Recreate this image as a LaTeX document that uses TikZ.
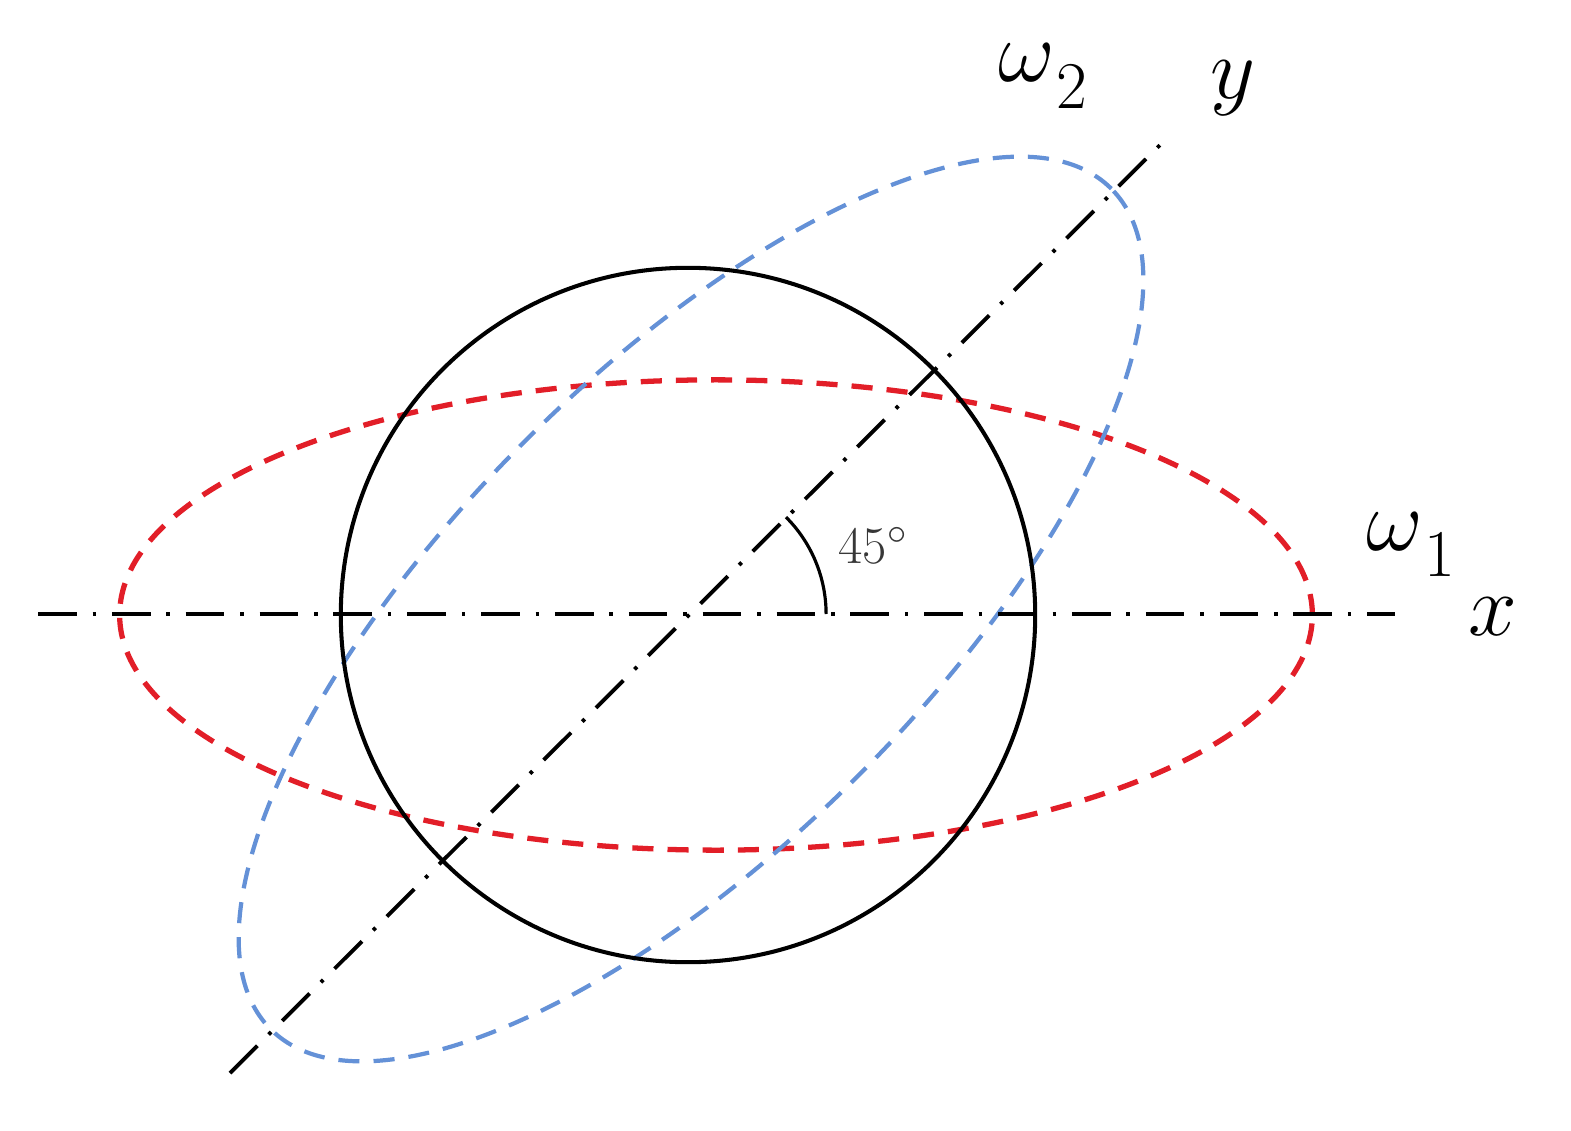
\documentclass[tikz,border=0pt]{standalone}
\usepackage{fontspec}
\definecolor{ellred}{RGB}{226,30,40}
\definecolor{ellblue}{RGB}{100,145,215}
\definecolor{anggray}{RGB}{55,55,55}
\tikzset{
  axisline/.style={line width=1.1pt, dash pattern=on 11pt off 4.5pt on 1pt off 4.5pt},
  redell/.style={draw=ellred, line width=1.5pt, dash pattern=on 6pt off 4pt},
  blueell/.style={draw=ellblue, line width=1.2pt, dash pattern=on 6pt off 4pt},
  rim/.style={draw=black, line width=1.15pt},
  biglab/.style={anchor=base west, inner sep=0pt, font=\fontsize{33}{33}\selectfont},
  anglab/.style={anchor=base west, inner sep=0pt, text=anggray, font=\fontsize{15}{15}\selectfont}
}
\newcommand\omsub[1]{$\omega$\kern0.5pt\raisebox{-7.5pt}{\fontsize{19}{19}\selectfont #1}}
\begin{document}
\begin{tikzpicture}[x=0.01cm,y=0.01cm]
\useasboundingbox (0,0) rectangle (1571,1130);
% named points
\coordinate (O) at (689,516);
\coordinate (xs) at (38,516);
\coordinate (xe) at (1395,516);
\coordinate (ys) at (230,57);
\coordinate (ye) at (1161,986);
% red ellipse
\draw[redell] (716,515) ellipse [x radius=5.96cm, y radius=2.35cm];
% blue ellipse
\begin{scope}[shift={(691,521)}, rotate=45]
\draw[blueell] (0,0) ellipse [x radius=5.94cm, y radius=2.36cm];
\end{scope}
% circle
\draw[rim] (688,515) circle [radius=3.47cm];
% axes
\draw[axisline] (xs) -- (xe);
\draw[axisline] (ys) -- (ye);
% angle arc
\draw[line width=0.9pt] ([xshift=1.37cm]O) arc [start angle=0, end angle=45, radius=1.37cm];
% labels
\node[anglab] (ang) at (838,567) {45$^{\circ}$};
\node[biglab] (w2) at (998,1048) {\omsub{2}};
\node[biglab] (ylab) at (1210,1031) {$y$};
\node[biglab] (w1) at (1366,580) {\omsub{1}};
\node[biglab] (xlab) at (1468,495) {$x$};
\end{tikzpicture}
\end{document}
